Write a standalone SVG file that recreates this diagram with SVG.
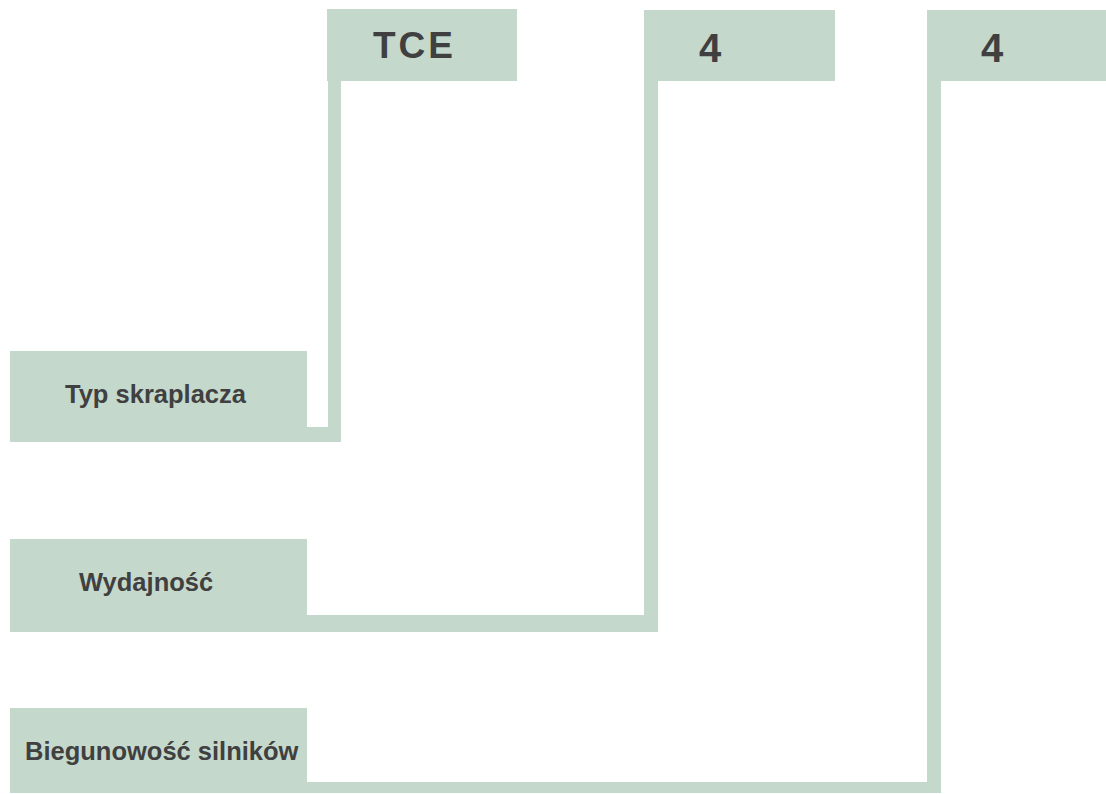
<svg xmlns="http://www.w3.org/2000/svg" width="1106" height="794" viewBox="0 0 1106 794">
<style>
.box{fill:#c5d8cc}
.conn{fill:#c5d8cc}
.lbl{font-family:"Liberation Sans",Arial,sans-serif;font-weight:bold;fill:#404040;font-size:25.5px}
.code{font-family:"Liberation Sans",Arial,sans-serif;font-weight:bold;fill:#404040}
</style>
<rect width="1106" height="794" fill="#ffffff"/>
<g id="connectors">
<path class="conn" d="M307,427 H328 V81 H341 V442 H307 Z"/>
<path class="conn" d="M307,615 H644 V81 H658 V632 H307 Z"/>
<path class="conn" d="M307,782 H927 V81 H941 V793 H307 Z"/>
</g>
<g id="code-tce">
<rect class="box" x="327" y="9" width="190" height="72"/>
<text class="code" x="373" y="58" font-size="37" letter-spacing="3">TCE</text>
</g>
<g id="code-4a">
<rect class="box" x="644" y="10" width="191" height="71"/>
<text class="code" x="699" y="62" font-size="40">4</text>
</g>
<g id="code-4b">
<rect class="box" x="927" y="10" width="179" height="71"/>
<text class="code" x="981" y="62" font-size="40">4</text>
</g>
<g id="label-typ">
<rect class="box" x="10" y="351" width="297" height="91"/>
<text class="lbl" x="65" y="403">Typ skraplacza</text>
</g>
<g id="label-wydajnosc">
<rect class="box" x="10" y="539" width="297" height="93"/>
<text class="lbl" x="79" y="591">Wydajność</text>
</g>
<g id="label-biegunowosc">
<rect class="box" x="10" y="708" width="297" height="85"/>
<text class="lbl" x="25" y="760">Biegunowość silników</text>
</g>
</svg>
